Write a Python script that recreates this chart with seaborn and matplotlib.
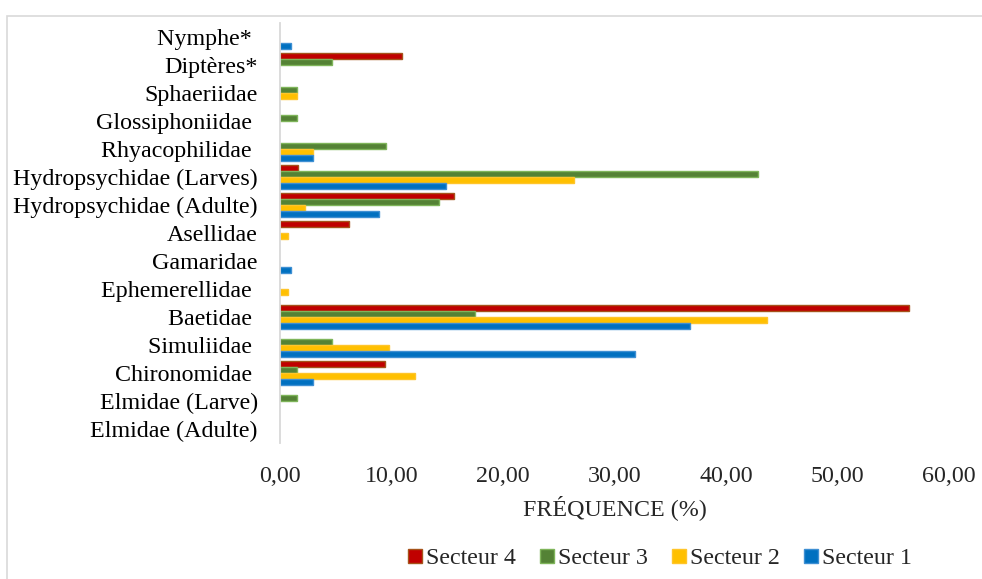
import matplotlib
matplotlib.use("Agg")
import matplotlib.pyplot as plt
from matplotlib.patches import Patch, Rectangle
import seaborn as sns
import pandas as pd

# ---- data ----
categories = ["Nymphe* ", "Diptères*", "Sphaeriidae", "Glossiphoniidae ", "Rhyacophilidae ",
              "Hydropsychidae (Larves)", "Hydropsychidae (Adulte)", "Asellidae", "Gamaridae",
              "Ephemerellidae ", "Baetidae ", "Simuliidae ", "Chironomidae ",
              "Elmidae (Larve)", "Elmidae (Adulte)"]
secteur_4 = [0, 10.9, 0, 0, 0, 1.6, 15.6, 6.2, 0, 0, 56.4, 0, 9.4, 0, 0]
secteur_3 = [0, 4.7, 1.5, 1.5, 9.5, 42.9, 14.3, 0, 0, 0, 17.5, 4.7, 1.5, 1.5, 0]
secteur_2 = [0, 0, 1.5, 0, 3.0, 26.4, 2.2, 0.7, 0, 0.7, 43.7, 9.8, 12.1, 0, 0]
secteur_1 = [1.0, 0, 0, 0, 3.0, 14.9, 8.9, 0, 1.0, 0, 36.8, 31.8, 3.0, 0, 0]
series_names = ["Secteur 4", "Secteur 3", "Secteur 2", "Secteur 1"]
xtick_values = [0, 10, 20, 30, 40, 50, 60]
xtick_labels = ["0,00", "10,00", "20,00", "30,00", "40,00", "50,00", "60,00"]
x_label = "FRÉQUENCE (%)"

fill_colors = ["#C00000", "#548235", "#FFC000", "#0070C0"]
edge_colors = ["#A5531A", "#7FB55A", "#FFC52A", "#3E8FD3"]

rows = []
for name, vals in zip(series_names, [secteur_4, secteur_3, secteur_2, secteur_1]):
    for c, v in zip(categories, vals):
        rows.append({"cat": c, "val": v, "series": name})
df = pd.DataFrame(rows)

sns.set_style("white")
plt.rcParams["font.family"] = ["Liberation Serif", "DejaVu Serif"]

W, H = 982, 579
fig = plt.figure(figsize=(W / 100, H / 100), dpi=100)
ax_left, ax_right, ax_top, ax_bot = 280, 949, 23, 443
ax = fig.add_axes([ax_left / W, 1 - ax_bot / H, (ax_right - ax_left) / W, (ax_bot - ax_top) / H])

sns.barplot(data=df, x="val", y="cat", hue="series", order=categories,
            hue_order=series_names, palette=fill_colors, orient="h",
            width=0.84, dodge=True, errorbar=None, ax=ax, saturation=1)

for cont, ec in zip(ax.containers, edge_colors):
    for p in cont.patches:
        if p.get_width() <= 0:
            p.set_linewidth(0)
            p.set_visible(False)
        else:
            p.set_edgecolor(ec)
            p.set_linewidth(1.0)

ax.set_xlim(0, 60)
ax.set_ylim(len(categories) - 0.5, -0.5)
ax.set_xticks(xtick_values)
ax.set_xticklabels(xtick_labels)
ax.tick_params(axis="x", length=0, pad=16.5, labelsize=17.3)
ax.tick_params(axis="y", length=0, pad=16, labelsize=17.3)
for lab in ax.get_yticklabels():
    lab.set_color("black")
ax.set_ylabel("")
ax.set_xlabel(x_label, fontsize=17.3)
ax.xaxis.set_label_coords(0.5, (ax_bot - 508) / (ax_bot - ax_top))
ax.xaxis.label.set_va("center")

for s in ["top", "right", "bottom"]:
    ax.spines[s].set_visible(False)
ax.spines["left"].set_color("#D9D9D9")
ax.spines["left"].set_linewidth(1.3)
ax.grid(False)

if ax.get_legend() is not None:
    ax.get_legend().remove()
handles = [Patch(facecolor=fc, edgecolor=ec, linewidth=1.0, label=n)
           for fc, ec, n in zip(fill_colors, edge_colors, series_names)]
fig.legend(handles=handles, loc="center", bbox_to_anchor=(660 / W, 1 - 559 / H),
           ncol=4, frameon=False, fontsize=17.3, handlelength=0.58, handleheight=0.58,
           handletextpad=0.18, columnspacing=1.0, borderpad=0, borderaxespad=0)

frame_top = 1 - 16 / H
fig.patches.append(Rectangle((7 / W, -0.2), 1.2, frame_top + 0.2, transform=fig.transFigure,
                             fill=False, edgecolor="#D9D9D9", linewidth=1.2))

fig.savefig("out.png", dpi=100, facecolor="white")
